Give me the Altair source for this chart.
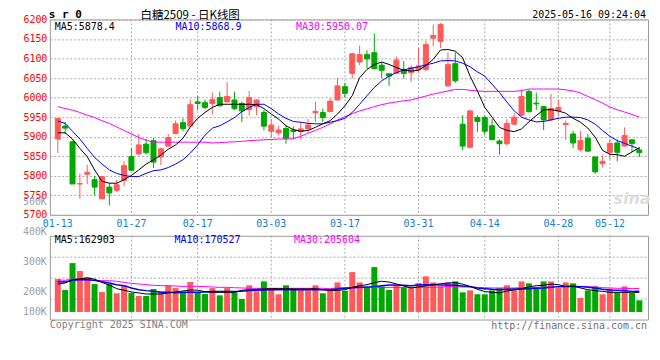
import altair as alt
import pandas as pd

# ---------------- data ----------------
dates = ["01-13", "01-27", "02-17", "03-03", "03-17", "03-31", "04-14", "04-28", "05-12"]
date_idx = [0, 10, 19, 29, 39, 49, 58, 68, 75]

opens = [5894, 5927, 5887, 5779, 5804, 5790, 5741, 5771, 5763, 5788,
         5849, 5856, 5881, 5890, 5848, 5876, 5908, 5936, 5927, 5989,
         5987, 5985, 6000, 5989, 5994, 5985, 5969, 5977, 5962, 5914,
         5910, 5921, 5917, 5913, 5920, 5961, 5962, 5964, 5994, 6028,
         6062, 6091, 6110, 6115, 6083, 6061, 6062, 6072, 6064, 6071,
         6072, 6152, 6144, 6030, 6087, 5932, 5873, 5949, 5949, 5928,
         5889, 5882, 5932, 5955, 6016, 5986, 5977, 5943, 5966, 5931,
         5907, 5867, 5896, 5848, 5831, 5860, 5884, 5876, 5892, 5866]
highs = [5947, 5938, 5890, 5806, 5828, 5800, 5799, 5781, 5790, 5838,
         5870, 5907, 5894, 5897, 5872, 5907, 5941, 5947, 5996, 6004,
         5995, 6013, 6015, 6040, 6015, 5989, 6017, 5995, 5969, 5945,
         5928, 5928, 5926, 5937, 5945, 5990, 5972, 5999, 6050, 6038,
         6114, 6133, 6121, 6164, 6091, 6062, 6105, 6094, 6083, 6127,
         6145, 6187, 6191, 6116, 6116, 5955, 5969, 5955, 5955, 5945,
         5893, 5945, 5960, 6021, 6020, 6013, 5979, 6009, 5994, 5941,
         5915, 5915, 5907, 5849, 5852, 5893, 5893, 5924, 5893, 5873]
lows = [5858, 5907, 5779, 5741, 5779, 5750, 5741, 5724, 5758, 5773,
        5814, 5852, 5855, 5820, 5828, 5875, 5907, 5914, 5925, 5968,
        5970, 5957, 5978, 5988, 5968, 5937, 5954, 5955, 5916, 5899,
        5903, 5882, 5893, 5893, 5911, 5937, 5937, 5963, 5992, 6000,
        6049, 6083, 6074, 6072, 6049, 6030, 6060, 6049, 6040, 6064,
        6068, 6132, 6127, 6028, 6038, 5865, 5870, 5911, 5905, 5890,
        5854, 5877, 5930, 5953, 5962, 5969, 5917, 5940, 5954, 5892,
        5871, 5862, 5862, 5805, 5821, 5842, 5837, 5875, 5861, 5848]
closes = [5947, 5922, 5779, 5780, 5809, 5771, 5798, 5756, 5777, 5826,
          5814, 5879, 5859, 5835, 5869, 5898, 5933, 5921, 5982, 5985,
          5975, 5995, 5979, 6003, 5972, 5966, 6000, 5994, 5927, 5930,
          5917, 5896, 5913, 5920, 5930, 5965, 5949, 5991, 6030, 6011,
          6112, 6110, 6099, 6074, 6070, 6055, 6096, 6062, 6077, 6081,
          6136, 6159, 6187, 6085, 6043, 5876, 5966, 5939, 5914, 5893,
          5882, 5934, 5950, 6003, 5964, 5984, 5943, 5972, 5975, 5934,
          5884, 5890, 5863, 5810, 5837, 5883, 5860, 5903, 5883, 5859]

ma5 = [5910, 5910, 5894, 5870, 5849, 5815, 5786, 5781, 5781, 5790,
       5801, 5815, 5830, 5841, 5853, 5868, 5879, 5896, 5925, 5947,
       5962, 5975, 5983, 5983, 5983, 5983, 5983, 5982, 5972, 5958,
       5945, 5928, 5918, 5914, 5916, 5924, 5933, 5941, 5958, 5979,
       6005, 6051, 6072, 6085, 6091, 6085, 6077, 6070, 6068, 6070,
       6082, 6098, 6122, 6123, 6119, 6102, 6055, 6017, 5975, 5950,
       5924, 5916, 5913, 5920, 5938, 5954, 5969, 5969, 5966, 5960,
       5947, 5937, 5922, 5899, 5865, 5855, 5854, 5850, 5861, 5872]
ma10 = [5940, 5934, 5914, 5894, 5870, 5847, 5830, 5815, 5806, 5801,
        5798, 5798, 5806, 5813, 5815, 5821, 5830, 5841, 5858, 5879,
        5904, 5922, 5928, 5938, 5949, 5964, 5975, 5983, 5983, 5972,
        5958, 5947, 5939, 5937, 5934, 5933, 5933, 5937, 5941, 5947,
        5962, 5983, 6005, 6026, 6043, 6055, 6064, 6071, 6075, 6079,
        6084, 6088, 6094, 6095, 6094, 6088, 6079, 6066, 6055, 6034,
        6013, 5989, 5966, 5950, 5943, 5938, 5939, 5943, 5947, 5950,
        5950, 5949, 5943, 5932, 5916, 5901, 5890, 5883, 5876, 5868]
ma30 = [5977, 5972, 5968, 5962, 5955, 5949, 5941, 5934, 5925, 5916,
        5907, 5898, 5891, 5886, 5886, 5886, 5886, 5886, 5886, 5886,
        5886, 5884, 5885, 5886, 5887, 5888, 5890, 5891, 5892, 5893,
        5894, 5894, 5895, 5901, 5909, 5916, 5924, 5933, 5943, 5951,
        5959, 5966, 5971, 5977, 5982, 5986, 5989, 5992, 5994, 5999,
        6004, 6009, 6013, 6017, 6021, 6021, 6019, 6017, 6016, 6016,
        6016, 6016, 6016, 6018, 6022, 6022, 6022, 6022, 6022, 6020,
        6017, 6012, 6003, 5995, 5986, 5976, 5969, 5963, 5957, 5950]

vols_k = [271, 181, 403, 337, 288, 230, 164, 230, 154, 220,
          156, 132, 132, 189, 168, 217, 197, 160, 247, 162,
          148, 197, 137, 197, 162, 107, 220, 170, 252, 192,
          146, 220, 192, 197, 178, 220, 154, 178, 244, 176,
          329, 244, 203, 370, 211, 181, 220, 203, 197, 239,
          294, 244, 211, 244, 252, 162, 178, 146, 146, 178,
          197, 220, 178, 252, 236, 203, 252, 252, 197, 244,
          236, 115, 178, 211, 146, 192, 162, 211, 154, 96]
vma5_k = [230, 239, 266, 274, 280, 271, 244, 222, 192, 179,
          165, 157, 148, 148, 148, 157, 165, 173, 181, 179,
          168, 162, 162, 162, 162, 179, 184, 187, 190, 192,
          192, 192, 190, 190, 190, 192, 184, 176, 179, 184,
          203, 217, 225, 242, 253, 247, 231, 214, 198, 206,
          217, 225, 233, 239, 242, 230, 211, 187, 168, 162,
          157, 173, 181, 192, 206, 217, 220, 230, 225, 211,
          214, 198, 184, 176, 170, 162, 162, 162, 157, 163]
vma10_k = [250, 247, 261, 266, 266, 261, 250, 239, 225, 217,
           198, 184, 176, 170, 162, 162, 159, 162, 162, 162,
           165, 168, 168, 168, 168, 170, 176, 179, 181, 184,
           184, 184, 184, 184, 184, 184, 184, 184, 190, 195,
           200, 203, 206, 209, 217, 222, 222, 220, 217, 222,
           225, 225, 222, 222, 220, 214, 209, 198, 192, 187,
           184, 187, 190, 190, 192, 195, 198, 203, 209, 211,
           211, 209, 203, 198, 187, 181, 179, 176, 168, 171]
vma30_k = [264, 261, 272, 266, 264, 258, 258, 258, 253, 244,
           236, 231, 225, 220, 217, 217, 214, 211, 211, 211,
           209, 206, 203, 203, 200, 198, 195, 195, 195, 195,
           195, 195, 195, 195, 195, 195, 195, 192, 200, 200,
           200, 200, 200, 203, 203, 203, 203, 203, 203, 203,
           203, 203, 206, 209, 209, 206, 206, 203, 200, 198,
           198, 198, 198, 200, 203, 203, 206, 206, 209, 209,
           211, 211, 209, 206, 200, 198, 195, 195, 192, 195]

vol_tick_text = ["500K", "400K", "300K", "200K", "100K"]
vol_tick_vals = [500000, 400000, 300000, 200000, 100000]

code_text = "s r 0"
title_text = "白糖2509 - 日K线图"
stamp_text = "2025-05-16 09:24:04"
price_ma_text = ["MA5:5878.4", "MA10:5868.9", "MA30:5950.07"]
vol_ma_text = ["MA5:162903", "MA10:170527", "MA30:205604"]
copyright_text = "Copyright 2025 SINA.COM"
url_text = "http://finance.sina.com.cn"

n = len(closes)
for arr in (opens, highs, lows, ma5, ma10, ma30, vols_k, vma5_k, vma10_k, vma30_k):
    assert len(arr) == n, len(arr)

# ---------------- styling ----------------
RED = "#ff5a5a"
GREEN = "#00a800"
BLUE = "#0000ff"
MAG = "#ff00ff"
DATEBLUE = "#1580d2"
GRID = "#aaaaaa"
MONO = "DejaVu Sans Mono"
W, H1, H2 = 600, 196, 84

df = pd.DataFrame({
    "i": list(range(n)), "o": opens, "h": highs, "l": lows, "c": closes,
    "ma5": ma5, "ma10": ma10, "ma30": ma30,
    "v": [k * 1000 for k in vols_k],
    "vma5": [k * 1000 for k in vma5_k],
    "vma10": [k * 1000 for k in vma10_k],
    "vma30": [k * 1000 for k in vma30_k],
})
df["d"] = ["up" if c >= o else "down" for o, c in zip(opens, closes)]
dd = pd.DataFrame({"i": date_idx, "t": dates})

XS = alt.Scale(domain=[-0.4, 79.5], nice=False, zero=False)
x = alt.X("i:Q", scale=XS, axis=None)
cscale = alt.Scale(domain=["up", "down"], range=[RED, GREEN])
col = alt.Color("d:N", scale=cscale, legend=None)
stk = alt.Stroke("d:N", scale=cscale, legend=None)

PS = alt.Scale(domain=[5700, 6200], nice=False, zero=False)
PAX = alt.Axis(values=list(range(5700, 6201, 50)), format="d", title=None, labelColor="#ff0000",
               labelFont=MONO, labelFontSize=10, ticks=False, domain=False, grid=True,
               gridColor=GRID, gridDash=[2, 2], labelPadding=3)


def label(text, xv, yv, color, size=10, align="left", font=MONO, weight="normal", style="normal"):
    return alt.Chart(pd.DataFrame({"t": [text]})).mark_text(
        align=align, baseline="middle", font=font, fontSize=size, color=color,
        fontWeight=weight, fontStyle=style
    ).encode(text="t:N", x=alt.value(xv), y=alt.value(yv))


# ---------------- price panel ----------------
tb = alt.Chart(df)
vgrid1 = alt.Chart(dd).transform_filter("datum.i > 0").mark_rule(
    color=GRID, strokeDash=[2, 2], strokeWidth=1).encode(x=x, y=alt.value(0), y2=alt.value(H1))
wick = tb.mark_rule(strokeWidth=1).encode(x=x, y=alt.Y("l:Q", scale=PS, axis=PAX), y2="h:Q", color=col)
body = tb.mark_bar(size=5, strokeWidth=1).encode(
    x=x, y=alt.Y("o:Q", scale=PS, axis=PAX), y2="c:Q", color=col, stroke=stk)


def pline(field, color):
    return tb.mark_line(color=color, strokeWidth=1).encode(x=x, y=alt.Y(f"{field}:Q", scale=PS, axis=PAX))


date_txt = alt.Chart(dd).mark_text(align="center", baseline="middle", font=MONO, fontSize=10,
                                   color=DATEBLUE).encode(x=x, y=alt.value(H1 + 9), text="t:N")
anchor = alt.Chart(pd.DataFrame({"t": [0]})).mark_rule(opacity=0, strokeWidth=1).encode(
    x=alt.value(-41.5), y=alt.value(-9), y2=alt.value(-9))

top = alt.layer(
    vgrid1, wick, body, pline("ma30", MAG), pline("ma10", BLUE), pline("ma5", "#000000"),
    date_txt,
    label(price_ma_text[0], 5, 7.5, "#000000"),
    label(price_ma_text[1], 126, 7.5, BLUE),
    label(price_ma_text[2], 247, 7.5, MAG),
    label(code_text, -1, -4, "#000000", size=11, weight="bold"),
    label(title_text, 91, -3, "#000000", size=11.5, font="Noto Sans CJK SC"),
    label(stamp_text, 598, -4, "#000000", align="right"),
    label("sina", 584, 180, "#dddddd", size=16, font="DejaVu Sans", weight="bold", style="italic", align="center"),
    anchor,
).properties(width=W, height=H1)

# ---------------- volume panel ----------------
VLO, VHI = -62510, 628390
VS = alt.Scale(domain=[VLO, VHI], nice=False, zero=False)
vgrid_vals = [VLO + (VHI - VLO) * k / 4 for k in (1, 2, 3)]
VAX = alt.Axis(values=vgrid_vals, labels=False, ticks=False, domain=False, grid=True,
               gridColor=GRID, gridDash=[2, 2], title=None)

vgrid2 = alt.Chart(dd).transform_filter("datum.i > 0").mark_rule(
    color=GRID, strokeDash=[2, 2], strokeWidth=1).encode(x=x, y=alt.value(0), y2=alt.value(H2))
vbars = tb.mark_bar(size=6).encode(x=x, y=alt.Y("v:Q", scale=VS, axis=VAX), y2=alt.datum(0), color=col)


def vline(field, color, w=1):
    return tb.mark_line(color=color, strokeWidth=w).encode(x=x, y=alt.Y(f"{field}:Q", scale=VS, axis=None))


vlabels = alt.Chart(pd.DataFrame({"t": vol_tick_text, "v": vol_tick_vals})).transform_calculate(
    pos="max(datum.v, 133000)"
).mark_text(align="right", baseline="middle", font=MONO, fontSize=10, color="#a0a0a0").encode(
    x=alt.value(-3),
    y=alt.Y("pos:Q", scale=alt.Scale(domain=[107000, 386000], nice=False, zero=False), axis=None),
    text="t:N")

bottom = alt.layer(
    vgrid2, vbars, vline("vma30", MAG), vline("vma10", BLUE, 1.5), vline("vma5", "#000000"),
    vlabels,
    label(vol_ma_text[0], 5, 4, "#000000"),
    label(vol_ma_text[1], 125, 4, BLUE),
    label(vol_ma_text[2], 245, 4, MAG),
    label(copyright_text, 0, 89, "#808080"),
    label(url_text, 599, 90, "#707070", align="right"),
).resolve_scale(y="independent").properties(width=W, height=H2)

chart = alt.vconcat(top, bottom, spacing=21, bounds="flush", padding=0, background="white").configure_view(
    stroke="#999999", strokeWidth=1)

chart.save("out.html", embed_options={"renderer": "svg", "actions": False})
